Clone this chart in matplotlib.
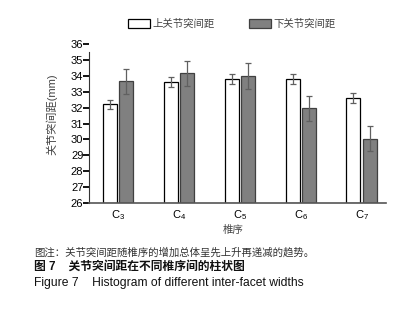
import matplotlib
matplotlib.use('Agg')
import matplotlib.pyplot as plt
import numpy as np

plt.rcParams['font.family'] = ['Liberation Sans', 'Noto Sans CJK SC']
plt.rcParams['mathtext.fontset'] = 'custom'
plt.rcParams['mathtext.rm'] = 'Liberation Sans'

# Dados
categorias = ['C$_3$', 'C$_4$', 'C$_5$', 'C$_6$', 'C$_7$']
superior = [32.2, 33.6, 33.8, 33.8, 32.6]
superior_erro = [0.3, 0.3, 0.3, 0.3, 0.3]
inferior = [33.65, 34.15, 34.0, 31.95, 30.05]
inferior_erro = [0.8, 0.8, 0.8, 0.8, 0.8]
yticks = list(range(26, 37))

fig = plt.figure(figsize=(4.08, 3.10), dpi=100)
ax = fig.add_axes([0.218, 0.345, 0.728, 0.513])

x = np.arange(len(categorias))
w = 0.23
ax.bar(x - 0.135, np.array(superior) - 26, w, bottom=26, color='white',
       edgecolor='black', linewidth=0.9, label='上关节突间距')
ax.bar(x + 0.135, np.array(inferior) - 26, w, bottom=26, color='#808080',
       edgecolor='#404040', linewidth=0.9, label='下关节突间距')
ax.errorbar(x - 0.135, superior, yerr=superior_erro, fmt='none',
            ecolor='#606060', elinewidth=0.9, capsize=2.5, capthick=0.9)
ax.errorbar(x + 0.135, inferior, yerr=inferior_erro, fmt='none',
            ecolor='#606060', elinewidth=0.9, capsize=2.5, capthick=0.9)

ax.set_ylim(26, 36)
ax.set_xlim(-0.48, 4.4)
ax.set_yticks(yticks)
ax.set_xticks(x)
ax.set_xticklabels(categorias)
ax.spines['top'].set_visible(False)
ax.spines['right'].set_visible(False)
ax.spines['left'].set_color('#333333')
ax.spines['left'].set_bounds(26, 35.5)
ax.spines['bottom'].set_color('#555555')
ax.spines['bottom'].set_linewidth(1.2)
ax.tick_params(axis='y', labelsize=8, length=4, width=1.3, pad=0)
ax.tick_params(axis='x', labelsize=8, length=0, pad=4)

fig.text(0.127, 0.632, '关节突间距(mm)', fontsize=8, color='#444444',
         rotation=90, ha='center', va='center')
fig.text(0.571, 0.258, '椎序', fontsize=7.5, color='#444444',
         ha='center', va='center')

ax.legend(loc='lower left', bbox_to_anchor=(0.314, 0.906),
          bbox_transform=fig.transFigure, ncol=2, frameon=False,
          borderpad=0, borderaxespad=0, fontsize=7.5, handlelength=2.1,
          handleheight=0.9, columnspacing=3.3, handletextpad=0.25,
          labelcolor='#444444')

fig.text(0.083, 0.187, '图注：关节突间距随椎序的增加总体呈先上升再递减的趋势。',
         fontsize=7.5, color='#333333', va='center')
fig.text(0.083, 0.138, '图 7    关节突间距在不同椎序间的柱状图',
         fontsize=8.5, fontweight='bold', color='#111111', va='center')
fig.text(0.083, 0.087, 'Figure 7    Histogram of different inter-facet widths',
         fontsize=8.7, color='#111111', va='center')

fig.savefig('out.png', dpi=100)
